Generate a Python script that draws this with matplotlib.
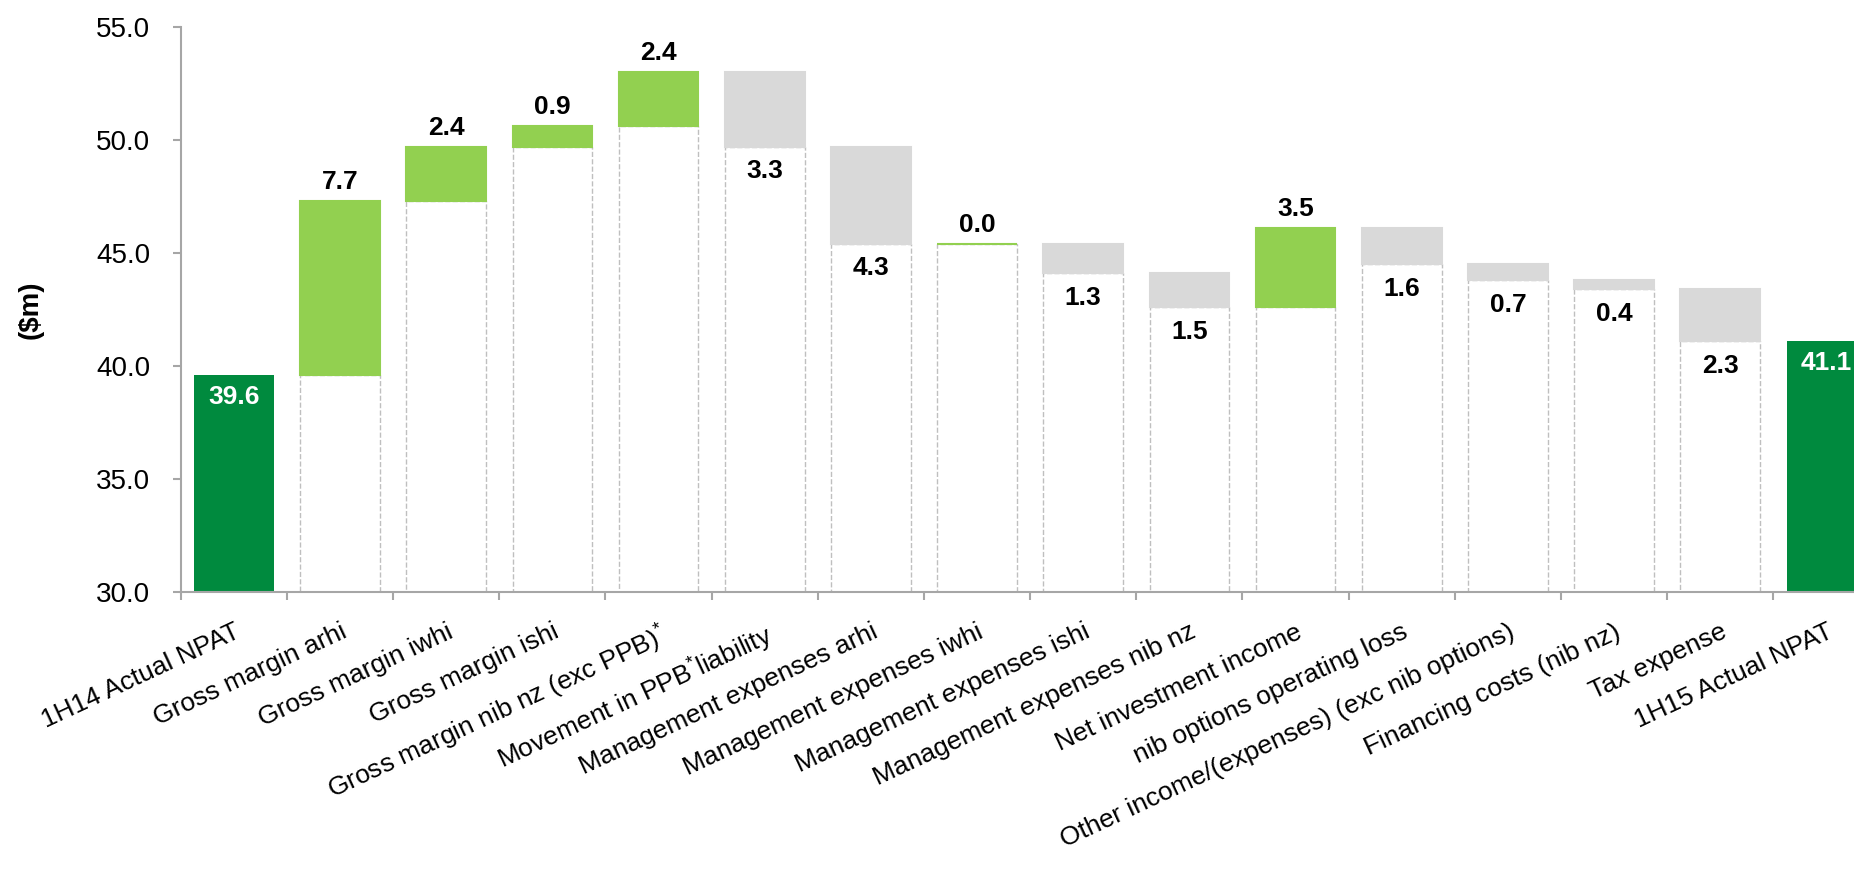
import matplotlib.pyplot as plt
import numpy as np

plt.rcParams['font.family'] = ['Liberation Sans', 'DejaVu Sans']
plt.rcParams['mathtext.default'] = 'regular'

# waterfall data ($m)
categories = ['1H14 Actual NPAT', 'Gross margin arhi', 'Gross margin iwhi', 'Gross margin ishi',
              'Gross margin nib nz (exc PPB)$^{*}$', 'Movement in PPB$^{*}$liability',
              'Management expenses arhi', 'Management expenses iwhi', 'Management expenses ishi',
              'Management expenses nib nz', 'Net investment income', 'nib options operating loss',
              'Other income/(expenses) (exc nib options)', 'Financing costs (nib nz)',
              'Tax expense', '1H15 Actual NPAT']
start_value = 39.6
changes = [7.7, 2.4, 0.9, 2.4, -3.3, -4.3, 0.0, -1.3, -1.5, 3.5, -1.6, -0.7, -0.4, -2.3]
end_value = 41.1

dark_green = '#008A3E'
light_green = '#92D050'
grey = '#D9D9D9'
axis_grey = '#A6A6A6'

fig = plt.figure(figsize=(18.54, 8.74), dpi=100)
ax = fig.add_axes([0.0975, 0.3227, 0.9025, 0.6465])

x = np.arange(len(categories))
width = 0.75

# totals
ax.bar([x[0], x[-1]], [start_value, end_value], width, color=dark_green, zorder=3)
for xi, v in [(x[0], start_value), (x[-1], end_value)]:
    ax.annotate(f'{v:.1f}', (xi, v), xytext=(0, -7), textcoords='offset points',
                ha='center', va='top', color='white', fontsize=19, fontweight='bold', zorder=5)

# changes
running = start_value
for i, c in enumerate(changes):
    xi = x[i + 1]
    low = min(running, running + c)
    # invisible base with dashed outline
    ax.bar(xi, low, width, color='white', edgecolor='#BFBFBF', linestyle='--',
           linewidth=1.0, zorder=2)
    col = light_green if c >= 0 else grey
    ax.bar(xi, abs(c), width, bottom=low, color=col, edgecolor=col, linewidth=1.5, zorder=3)
    if c >= 0:
        ax.annotate(f'{abs(c):.1f}', (xi, low + abs(c)), xytext=(0, 5), textcoords='offset points',
                    ha='center', va='bottom', fontsize=19, fontweight='bold', zorder=5)
    else:
        ax.annotate(f'{abs(c):.1f}', (xi, low), xytext=(0, -9), textcoords='offset points',
                    ha='center', va='top', fontsize=19, fontweight='bold', zorder=5)
    running += c

ax.set_xlim(-0.5, 15.26)
ax.set_ylim(30, 55)
ax.set_yticks([30, 35, 40, 45, 50, 55])
ax.set_yticklabels([f'{t:.1f}' for t in [30, 35, 40, 45, 50, 55]], fontsize=20)
ax.set_ylabel('($m)', fontsize=20, fontweight='bold', labelpad=38)

ax.set_xticks(x)
ax.set_xticklabels(categories, fontsize=19, rotation=25, ha='right', va='top',
                   rotation_mode='anchor')
ax.set_xticks(np.arange(-0.5, 15.5, 1), minor=True)
ax.tick_params(axis='x', which='major', length=0, pad=20)
ax.tick_params(axis='x', which='minor', length=6, width=1.5, color=axis_grey)
ax.tick_params(axis='y', length=6, width=1.5, color=axis_grey, pad=16)

for s in ['top', 'right']:
    ax.spines[s].set_visible(False)
for s in ['left', 'bottom']:
    ax.spines[s].set_color(axis_grey)
    ax.spines[s].set_linewidth(1.5)
    ax.spines[s].set_zorder(4)

fig.savefig('out.png', dpi=100)
